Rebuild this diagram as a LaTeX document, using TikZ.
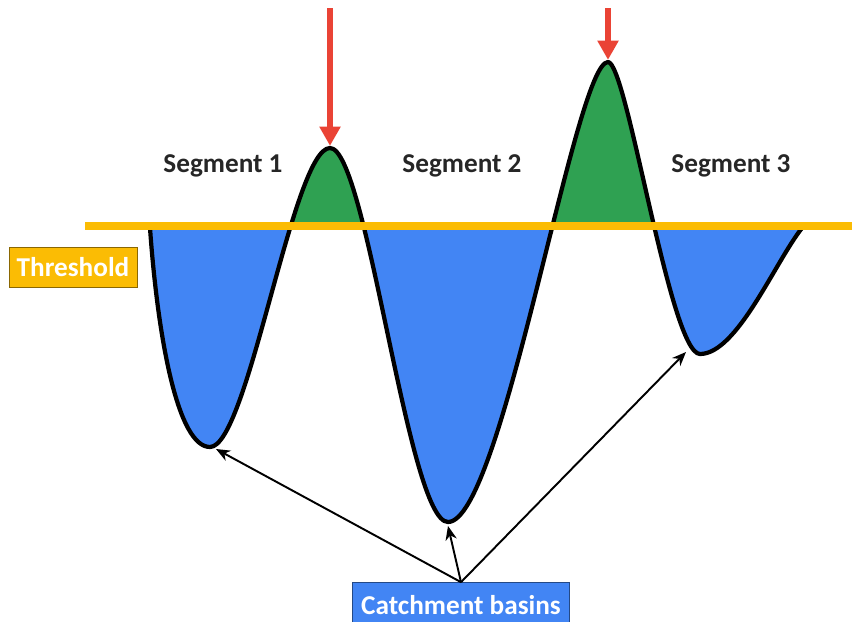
\documentclass[tikz,border=0pt]{standalone}
\usepackage{fontspec}
\setmainfont{Carlito}
\usetikzlibrary{arrows.meta}

\definecolor{basinblue}{HTML}{4285F4}
\definecolor{peakgreen}{HTML}{2FA152}
\definecolor{levelgold}{HTML}{FBBC04}
\definecolor{dropred}{HTML}{EA4335}

\begin{document}
\begin{tikzpicture}[
    x=0.02cm, y=-0.02cm,
    tag/.style={draw=#1!55!black, fill=#1, text=white, font=\bfseries\fontsize{15.5}{18}\selectfont, minimum height=0.8cm, inner xsep=4pt},
    segment/.style={anchor=base, text=black!85, font=\bfseries\fontsize{15.5}{18}\selectfont},
    drop/.style={dropred, line width=3.4pt, -{Triangle[length=11pt,width=11.5pt]}},
    pointer/.style={line width=1.1pt, -{Stealth[length=8pt,width=6.5pt]}}
]
\useasboundingbox (0,0) rectangle (852,622);

\coordinate (pit1) at (210,447);
\coordinate (peak1) at (330,148);
\coordinate (pit2) at (448,522);
\coordinate (peak2) at (608,62);
\coordinate (pit3) at (700,354);

\def\profile{(150,228) .. controls (158,340) and (178,447) .. (pit1)
  .. controls (248,447) and (293,148) .. (peak1)
  .. controls (367,148) and (408,522) .. (pit2)
  .. controls (502,522) and (575,62) .. (peak2)
  .. controls (627,62) and (670,354) .. (pit3)
  .. controls (737,354) and (775,262) .. (802,228)}

\begin{scope}
  \clip (0,226) rectangle (852,622);
  \fill[basinblue] \profile -- cycle;
\end{scope}
\begin{scope}
  \clip (0,0) rectangle (852,226);
  \fill[peakgreen] \profile -- cycle;
\end{scope}
\draw[line width=2.4pt, line join=round] \profile;

\coordinate (level west) at (85,226);
\coordinate (level east) at (852,226);
\draw[levelgold, line width=4.5pt] (level west) -- (level east);

\node[tag=levelgold, minimum width=2.56cm] (threshold) at (73,267) {Threshold};
\node[tag=basinblue, minimum width=4.34cm, minimum height=0.9cm] (basins) at (461,605) {Catchment basins};

\node[segment] (seg1) at (223,172) {Segment 1};
\node[segment] (seg2) at (462,172) {Segment 2};
\node[segment] (seg3) at (731,172) {Segment 3};

\coordinate (drop1) at (330,8);
\coordinate (drop2) at (608,8);
\draw[drop] (drop1) -- ([yshift=1.2pt]peak1);
\draw[drop] (drop2) -- ([yshift=1.2pt]peak2);

\coordinate (aim1) at (216,449);
\coordinate (aim2) at (448,526);
\coordinate (aim3) at (686,352);
\draw[pointer] (basins.north) -- (aim1);
\draw[pointer] (basins.north) -- (aim2);
\draw[pointer] (basins.north) -- (aim3);
\end{tikzpicture}
\end{document}
